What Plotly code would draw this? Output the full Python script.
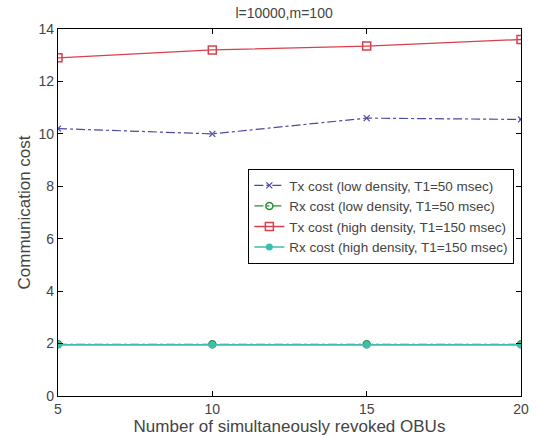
import plotly.graph_objects as go

x_vals = [5, 10, 15, 20]
tx_low = [10.2, 10.0, 10.6, 10.55]
rx_low = [1.97, 1.97, 1.97, 1.97]
tx_high = [12.9, 13.2, 13.35, 13.6]
rx_high = [1.95, 1.95, 1.95, 1.95]
x_ticks = [5, 10, 15, 20]
y_ticks = [0, 2, 4, 6, 8, 10, 12, 14]

FONT = "Liberation Sans, Arial, sans-serif"

fig = go.Figure()
fig.add_trace(go.Scatter(x=x_vals, y=tx_low, mode="lines+markers",
                         name="Tx cost (low density, T1=50 msec)",
                         line=dict(color="#4a4aa0", width=1.2, dash="dashdot"),
                         marker=dict(symbol="x-thin", size=6, line=dict(color="#4a4aa0", width=1.2))))
fig.add_trace(go.Scatter(x=x_vals, y=rx_low, mode="lines+markers",
                         name="Rx cost (low density, T1=50 msec)",
                         line=dict(color="#2e8b3a", width=1.3, dash="dashdot"),
                         marker=dict(symbol="circle-open", size=7, line=dict(color="#2e8b3a", width=1.5))))
fig.add_trace(go.Scatter(x=x_vals, y=tx_high, mode="lines+markers",
                         name="Tx cost (high density, T1=150 msec)",
                         line=dict(color="#d8404c", width=1.3),
                         marker=dict(symbol="square-open", size=8, line=dict(color="#d8404c", width=1.5))))
fig.add_trace(go.Scatter(x=x_vals, y=rx_high, mode="lines+markers",
                         name="Rx cost (high density, T1=150 msec)",
                         line=dict(color="#3cbfb0", width=1.6),
                         marker=dict(symbol="circle", size=7, color="#3cbfb0")))

axis_common = dict(showline=True, linecolor="black", linewidth=1.3, mirror="ticks",
                   ticks="inside", ticklen=5, tickcolor="black", showgrid=False,
                   zeroline=False, tickfont=dict(size=14, color="#444", family=FONT))

fig.update_layout(
    width=537, height=438,
    margin=dict(l=58, r=8, t=29, b=42),
    paper_bgcolor="white", plot_bgcolor="white",
    font=dict(family=FONT, color="#444"),
    title=dict(text="l=10000,m=100", x=0.529, xanchor="center", y=0.97, yanchor="middle",
               font=dict(size=14, color="#444", family=FONT)),
    xaxis=dict(range=[5, 20], tickvals=x_ticks,
               title=dict(text="Number of simultaneously revoked OBUs", font=dict(size=17, color="#444"), standoff=0),
               **axis_common),
    yaxis=dict(range=[0, 14], tickvals=y_ticks,
               title=dict(text="Communication cost", font=dict(size=17, color="#444"), standoff=3),
               **axis_common),
    legend=dict(x=0.985, xanchor="right", y=0.619, yanchor="top",
                bgcolor="white", bordercolor="black", borderwidth=1.3,
                font=dict(size=13.5, color="#444", family=FONT),
                tracegroupgap=0, itemwidth=30),
    showlegend=True,
)

fig.write_html("out.html")
